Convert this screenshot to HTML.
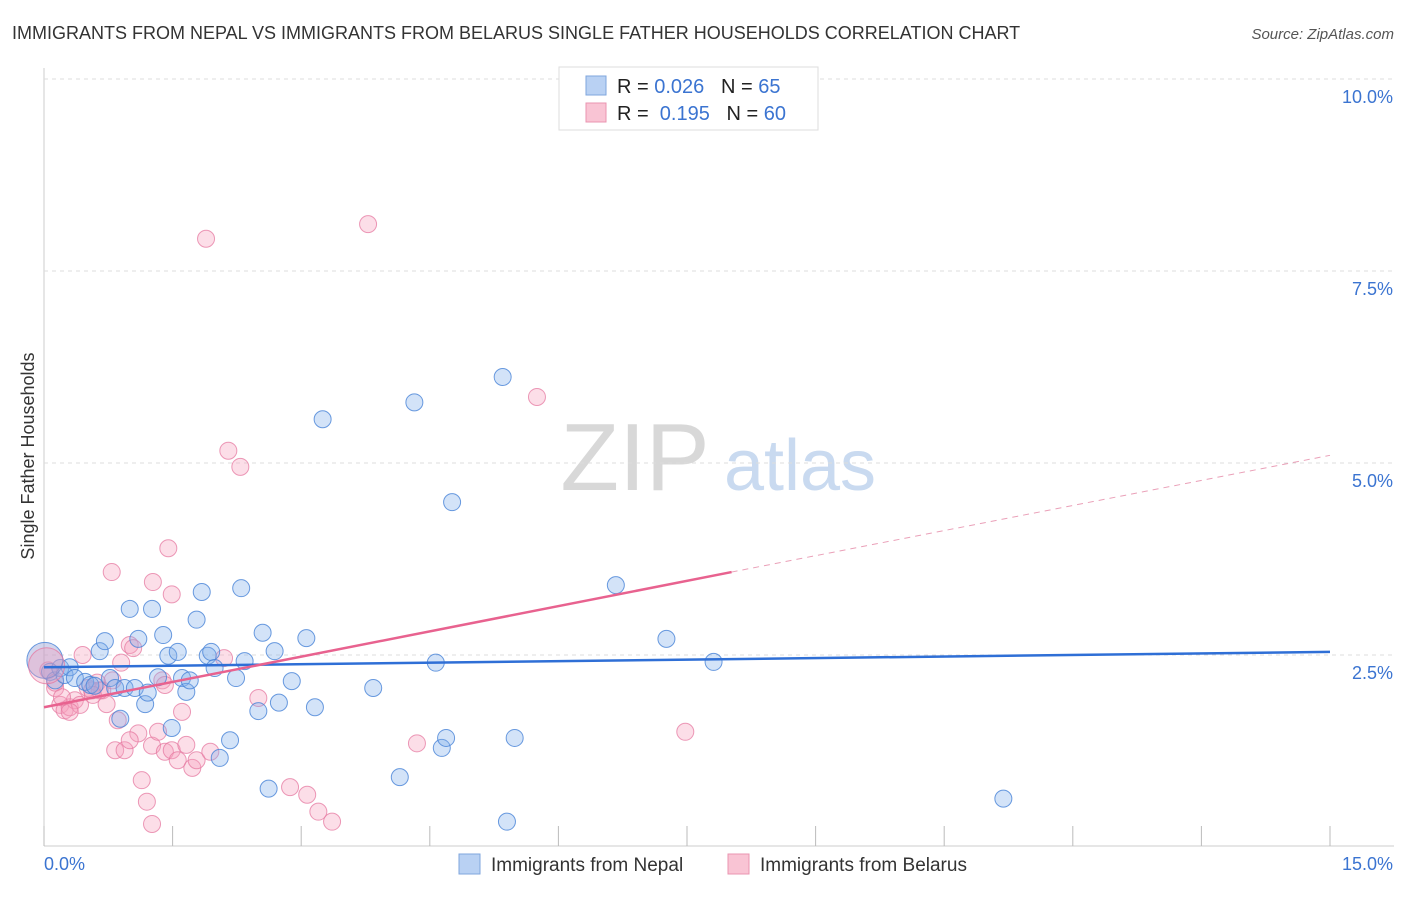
<!DOCTYPE html>
<html><head><meta charset="utf-8"><style>
body{margin:0;background:#fff;font-family:"Liberation Sans",sans-serif;}
svg text{font-family:"Liberation Sans",sans-serif;}
</style></head><body>
<svg id="c" width="1406" height="892" xmlns="http://www.w3.org/2000/svg">
<text x="12" y="39" font-size="18" fill="#333">IMMIGRANTS FROM NEPAL VS IMMIGRANTS FROM BELARUS SINGLE FATHER HOUSEHOLDS CORRELATION CHART</text>
<text x="1394" y="39" font-size="15" fill="#555" font-style="italic" text-anchor="end">Source: ZipAtlas.com</text>
<text x="635" y="490" font-size="96" fill="#d8d8d8" font-family="Liberation Serif" text-anchor="middle">ZIP</text>
<text x="800" y="490" font-size="72" fill="#c9daf0" text-anchor="middle">atlas</text>
<text x="34" y="456" font-size="18" fill="#333" text-anchor="middle" transform="rotate(-90 34 456)">Single Father Households</text>
<g id="grid"></g><g id="pts"></g><g id="lines"></g>
<g>
<rect x="559" y="67" width="259" height="63" fill="#fff" stroke="#ddd"/>
<rect x="586" y="76" width="20" height="19" fill="#b9d1f3" stroke="#7fa6dd"/>
<rect x="586" y="103" width="20" height="19" fill="#f9c4d4" stroke="#ea94b0"/>
<text x="617" y="93" font-size="20" fill="#222" xml:space="preserve">R = <tspan fill="#3b74d1">0.026</tspan>   N = <tspan fill="#3b74d1">65</tspan></text>
<text x="617" y="120" font-size="20" fill="#222" xml:space="preserve">R =  <tspan fill="#3b74d1">0.195</tspan>   N = <tspan fill="#3b74d1">60</tspan></text>
</g>
<g>
<rect x="459" y="854" width="21" height="20" fill="#b9d1f3" stroke="#7fa6dd"/>
<text x="491" y="871" font-size="19" fill="#333">Immigrants from Nepal</text>
<rect x="728" y="854" width="21" height="20" fill="#f9c4d4" stroke="#ea94b0"/>
<text x="760" y="871" font-size="19" fill="#333">Immigrants from Belarus</text>
</g>
</svg>
<script>
const yTicks=[2.5,5.0,7.5,10.0];
const xTicks=[0,1.5,3,4.5,6,7.5,9,10.5,12,13.5,15];
const xTickLabels=["0.0%","15.0%"];
const nepalX=[0.07,0.13,0.19,0.24,0.30,0.36,0.48,0.54,0.59,0.65,0.71,0.77,0.83,0.89,0.94,1.00,1.06,1.10,1.18,1.21,1.26,1.33,1.39,1.45,1.49,1.56,1.61,1.66,1.70,1.78,1.84,1.91,1.95,1.99,2.05,2.17,2.24,2.30,2.34,2.50,2.55,2.62,2.69,2.74,2.89,3.06,3.16,3.25,3.84,4.15,4.32,4.57,4.64,4.69,4.76,5.35,5.40,5.49,6.67,7.26,7.81,11.19];
const nepalY=[2.28,2.17,2.33,2.24,2.34,2.20,2.15,2.11,2.10,2.55,2.68,2.20,2.07,1.67,2.07,3.10,2.07,2.71,1.86,2.01,3.10,2.21,2.76,2.49,1.55,2.54,2.20,2.02,2.17,2.96,3.32,2.49,2.54,2.33,1.16,1.39,2.20,3.37,2.42,1.77,2.79,0.76,2.55,1.88,2.16,2.72,1.82,5.57,2.07,0.91,5.79,2.40,1.29,1.42,4.49,6.12,0.33,1.42,3.41,2.71,2.41,0.63];
const belarusX=[0.79,1.27,1.45,1.49,1.89,2.15,2.29,3.78,5.75,7.48,4.35,0.05,0.13,0.19,0.24,0.30,0.36,0.42,0.45,0.51,0.56,0.62,0.68,0.73,0.80,0.86,0.90,0.83,0.94,1.00,1.04,1.10,1.14,1.20,1.26,1.26,1.33,1.38,1.41,1.49,1.56,1.61,1.66,1.73,1.78,1.94,2.10,2.50,2.87,3.07,3.20,3.36,1.00,0.65,0.13,0.21,0.30,1.41,0.57];
const belarusY=[3.58,3.45,3.89,3.29,7.92,5.16,4.95,8.11,5.86,1.50,1.35,2.30,2.07,1.85,1.78,1.82,1.91,1.85,2.50,2.07,2.04,2.14,2.04,1.86,2.17,1.65,2.40,1.26,1.26,2.63,2.59,1.48,0.87,0.59,0.30,1.32,1.50,2.17,1.24,1.26,1.13,1.76,1.33,1.03,1.13,1.24,2.46,1.94,0.78,0.68,0.46,0.33,1.39,2.04,2.14,1.95,1.76,2.11,1.98];
const bigPoints=[[0.01,2.43],[0.03,2.36]];
const nepalTrend=[[0,2.34],[15,2.54]];
const belarusTrendSolid=[[0,1.82],[8.02,3.58]];
const belarusTrendDash=[[8.02,3.58],[15,5.10]];
const NS='http://www.w3.org/2000/svg';
const X=v=>44+v/15*1286, Y=v=>847-v*76.8;
function mk(tag,attrs,parent){const e=document.createElementNS(NS,tag);for(const k in attrs)e.setAttribute(k,attrs[k]);parent.appendChild(e);return e;}
const grid=document.getElementById('grid');
mk('line',{x1:44,y1:68,x2:44,y2:846,stroke:'#ccc'},grid);
mk('line',{x1:44,y1:846,x2:1394,y2:846,stroke:'#ccc'},grid);
yTicks.forEach(t=>{
 const l=mk('line',{x1:44,y1:Y(t),x2:1394,y2:Y(t),stroke:'#ddd','stroke-dasharray':'4,4'},grid);
 
 
 const tx=mk('text',{x:1393,y:Y(t)+24,'font-size':18,fill:'#3b74d1','text-anchor':'end'},grid);
 tx.textContent=t.toFixed(1)+'%';
 
 
});
xTicks.forEach(t=>{
 const l=mk('line',{x1:X(t),y1:826,x2:X(t),y2:846,stroke:'#bbb'},grid);
 
 
});
const xl0=mk('text',{x:44,y:870,'font-size':18,fill:'#3b74d1'},grid);xl0.textContent=xTickLabels[0];


const xl1=mk('text',{x:1393,y:870,'font-size':18,fill:'#3b74d1','text-anchor':'end'},grid);xl1.textContent=xTickLabels[1];


const pts=document.getElementById('pts');
const bf='rgba(130,175,235,0.35)',bs='rgba(70,130,215,0.8)',pf='rgba(245,160,190,0.35)',ps='rgba(230,120,160,0.75)';
belarusX.forEach((x,i)=>{
 const c=mk('circle',{cx:X(x),cy:Y(belarusY[i]),r:8.5,fill:pf,stroke:ps,'stroke-width':1},pts);
 
 
});
nepalX.forEach((x,i)=>{
 const c=mk('circle',{cx:X(x),cy:Y(nepalY[i]),r:8.5,fill:bf,stroke:bs,'stroke-width':1},pts);
 
 
});
bigPoints.forEach((p,i)=>{
 const c=mk('circle',{cx:X(p[0]),cy:Y(p[1]),r:18,fill:i?pf:'rgba(140,150,210,0.4)',stroke:i?ps:bs},pts);
 
 
});
const lines=document.getElementById('lines');
function seg(p,col,w,dash,name){
 const l=mk('line',{x1:X(p[0][0]),y1:Y(p[0][1]),x2:X(p[1][0]),y2:Y(p[1][1]),stroke:col,'stroke-width':w},lines);
 if(dash)l.setAttribute('stroke-dasharray',dash);
 
 
}
seg(nepalTrend,'#2f6fd6',2.5,null,'nepal-trend-line');
seg(belarusTrendSolid,'#e8628f',2.5,null,'belarus-trend-line');
seg(belarusTrendDash,'#eaa0b8',1,'6,5','belarus-trend-extension');
</script>
</body></html>
